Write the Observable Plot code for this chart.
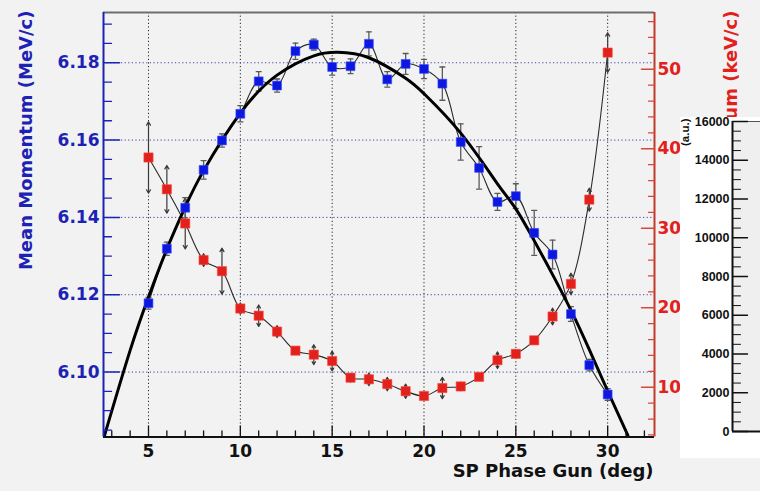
<!DOCTYPE html>
<html>
<head>
<meta charset="utf-8">
<script src="https://cdn.jsdelivr.net/npm/d3@7"></script>
<script src="https://cdn.jsdelivr.net/npm/@observablehq/plot@0.6"></script>
<style>
  body { margin: 0; background: #f2f2f2; }
  #wrap { position: relative; width: 760px; height: 491px; overflow: hidden; background: #f2f2f2; }
  #inset { position: absolute; left: 680px; top: 117px; width: 80px; height: 341px; background: #ffffff; }
  svg { display: block; }
</style>
</head>
<body>
<div id="wrap"><div id="main"></div><div id="inset"></div></div>
<script>
// Gun phase scan: mean momentum (left axis) and momentum spread (right axis)
const phase = [5, 6, 7, 8, 9, 10, 11, 12, 13, 14, 15, 16, 17, 18, 19, 20, 21, 22, 23, 24, 25, 26, 27, 28, 29, 30];
const meanMomentum = [6.1178, 6.1319, 6.1425, 6.1523, 6.1599, 6.1668, 6.1752, 6.1741, 6.1830, 6.1847,
  6.1789, 6.1791, 6.1849, 6.1757, 6.1797, 6.1784, 6.1746, 6.1595, 6.1528, 6.1440, 6.1455, 6.1360,
  6.1304, 6.1150, 6.1018, 6.0942];
const meanMomentumErr = [0.0015, 0.0017, 0.0026, 0.0024, 0.0017, 0.0021, 0.0025, 0.0017, 0.0021, 0.0014,
  0.0021, 0.0019, 0.0031, 0.0020, 0.0027, 0.0025, 0.0043, 0.0047, 0.0055, 0.0022, 0.0032, 0.0058,
  0.0037, 0.0019, 0.0015, 0.0015];
const momentumSpread = [38.9, 34.9, 30.6, 26.0, 24.6, 19.9, 19.0, 17.0, 14.6, 14.1, 13.3, 11.2, 11.0,
  10.4, 9.5, 8.9, 9.9, 10.1, 11.3, 13.4, 14.2, 15.9, 18.9, 23.0, 33.6, 52.1];
const momentumSpreadErr = [4.5, 3.0, 3.2, 0.8, 2.9, 0.7, 1.35, 0.75, 0.3, 1.25, 1.25, 0.55, 0.8, 0.85,
  0.9, 0.5, 1.35, 0.55, 0.3, 1.05, 0.5, 0.3, 1.05, 1.35, 1.45, 2.5];

// Fitted curve through the mean momentum
const fitPhase = [2.6, 4, 5, 6, 7, 8, 10, 12, 14, 15.3, 17, 19, 20, 22, 24, 25, 26, 27, 28, 29, 30, 31.1];
const fitMomentum = [6.0835, 6.1056, 6.1194, 6.1318, 6.1427, 6.1521, 6.1670, 6.1768, 6.1818, 6.1827,
  6.1813, 6.1760, 6.1720, 6.1618, 6.1487, 6.1422, 6.1340, 6.1252, 6.1160, 6.1058, 6.0951, 6.0836];

// Axis ticks
const phaseTicks = [5, 10, 15, 20, 25, 30];
const momentumTicks = [6.10, 6.12, 6.14, 6.16, 6.18];
const spreadTicks = [10, 20, 30, 40, 50];
const intensityTicks = [0, 2000, 4000, 6000, 8000, 10000, 12000, 14000, 16000];

const xDomain = [2.55, 32.55];
const yDomain = [6.0832, 6.193];
const spreadDomain = [3.74, 57.14];

const BLUE = "#1c22b4";
const RED = "#e2201c";
const FONT = "'DejaVu Sans', sans-serif";
const INSET_FONT = "'Liberation Sans', Arial, sans-serif";

// the spread is drawn on the momentum scale through this linear map
const spreadToY = d3.scaleLinear().domain(spreadDomain).range(yDomain);

const rows = phase.map((p, i) => ({
  phase: p,
  mean: meanMomentum[i],
  meanErr: meanMomentumErr[i],
  spread: spreadToY(momentumSpread[i]),
  spreadLo: spreadToY(momentumSpread[i] - momentumSpreadErr[i]),
  spreadHi: spreadToY(momentumSpread[i] + momentumSpreadErr[i])
}));
const fit = fitPhase.map((p, i) => ({phase: p, momentum: fitMomentum[i]}));

// a plain tick stroke for Plot.vector
const stroke = {draw(ctx, l) { ctx.moveTo(0, 0); ctx.lineTo(0, -l); }};

const range = (a, b, s) => d3.range(Math.round((b - a) / s) + 1).map(i => +(a + i * s).toFixed(6));
const minorX = range(3, 32, 1).filter(v => v % 5 !== 0);
const minorY = range(6.085, 6.19, 0.005).filter(v => !momentumTicks.some(t => Math.abs(t - v) < 1e-6));
const minorSpread = range(4, 56, 2).filter(v => v % 10 !== 0);

const main = Plot.plot({
  width: 760,
  height: 491,
  marginLeft: 103,
  marginRight: 106,
  marginTop: 12,
  marginBottom: 54.5,
  x: {domain: xDomain, axis: null},
  y: {domain: yDomain, axis: null},
  style: {background: "transparent", fontFamily: FONT, fontWeight: "bold", fontSize: "17px", overflow: "visible"},
  marks: [
    // dotted grid
    Plot.gridX(phaseTicks, {stroke: "#222", strokeOpacity: 1, strokeWidth: 1, strokeDasharray: "1.2,2.4"}),
    Plot.gridY(momentumTicks, {stroke: "#3a44a8", strokeOpacity: 1, strokeWidth: 1, strokeDasharray: "1.2,2.4"}),

    // momentum spread: connecting curve, arrows, markers
    Plot.line(rows, {x: "phase", y: "spread", curve: "catmull-rom", stroke: "#2b2b2b", strokeWidth: 1.1, clip: true}),
    Plot.arrow(rows, {x1: "phase", x2: "phase", y1: "spread", y2: "spreadHi", stroke: "#3a3a3a", strokeWidth: 1.2, headLength: 5}),
    Plot.arrow(rows, {x1: "phase", x2: "phase", y1: "spread", y2: "spreadLo", stroke: "#3a3a3a", strokeWidth: 1.2, headLength: 5}),

    // mean momentum: connecting curve and error bars
    Plot.line(rows, {x: "phase", y: "mean", curve: "catmull-rom", stroke: "#2b2b2b", strokeWidth: 1.1, clip: true}),
    Plot.ruleX(rows, {x: "phase", y1: d => d.mean - d.meanErr, y2: d => d.mean + d.meanErr, stroke: "#5a5a5a", strokeWidth: 1.3}),
    Plot.vector(rows, {x: "phase", y: d => d.mean + d.meanErr, rotate: 90, length: 5, anchor: "middle", shape: stroke, stroke: "#5a5a5a", strokeWidth: 1.3}),
    Plot.vector(rows, {x: "phase", y: d => d.mean - d.meanErr, rotate: 90, length: 5, anchor: "middle", shape: stroke, stroke: "#5a5a5a", strokeWidth: 1.3}),

    // fit
    Plot.line(fit, {x: "phase", y: "momentum", curve: "natural", stroke: "#000", strokeWidth: 3, clip: true}),

    // markers
    Plot.dot(rows, {x: "phase", y: "spread", symbol: "square", r: 5.2, fill: RED, stroke: "#ff4a3a", strokeWidth: 0.6}),
    Plot.dot(rows, {x: "phase", y: "mean", symbol: "square", r: 5.0, fill: "#0c18e0", stroke: "#3a4cff", strokeWidth: 0.6}),

    // frame
    Plot.ruleY([yDomain[1]], {stroke: "#6e6e6e", strokeWidth: 2}),
    Plot.ruleY([yDomain[0]], {stroke: "#111", strokeWidth: 2}),
    Plot.ruleX([xDomain[0]], {stroke: BLUE, strokeWidth: 2}),
    Plot.ruleX([xDomain[1]], {stroke: "#c0392b", strokeWidth: 2}),

    // inward ticks
    Plot.vector(phaseTicks, {x: d => d, frameAnchor: "bottom", rotate: 0, length: 11, anchor: "start", shape: stroke, stroke: "#111", strokeWidth: 1.3}),
    Plot.vector(minorX, {x: d => d, frameAnchor: "bottom", rotate: 0, length: 6, anchor: "start", shape: stroke, stroke: "#111", strokeWidth: 1.3}),
    Plot.vector(momentumTicks, {y: d => d, frameAnchor: "left", rotate: 90, length: 16, anchor: "start", shape: stroke, stroke: BLUE, strokeWidth: 1.5}),
    Plot.vector(minorY, {y: d => d, frameAnchor: "left", rotate: 90, length: 8, anchor: "start", shape: stroke, stroke: BLUE, strokeWidth: 1.3}),
    Plot.vector(spreadTicks, {y: d => spreadToY(d), frameAnchor: "right", rotate: -90, length: 13, anchor: "start", shape: stroke, stroke: "#d8453a", strokeWidth: 1.5}),
    Plot.vector(minorSpread, {y: d => spreadToY(d), frameAnchor: "right", rotate: -90, length: 6, anchor: "start", shape: stroke, stroke: "#d8453a", strokeWidth: 1.3}),

    // tick labels
    Plot.text(phaseTicks, {x: d => d, frameAnchor: "bottom", dy: 15, lineAnchor: "middle", text: d => String(d), fill: "#111", fontSize: 17, fontFamily: FONT, fontWeight: "bold"}),
    Plot.text(momentumTicks, {y: d => d, frameAnchor: "left", dx: -4, textAnchor: "end", lineAnchor: "middle", text: d => d.toFixed(2), fill: BLUE, fontSize: 17, fontFamily: FONT, fontWeight: "bold"}),
    Plot.text(spreadTicks, {y: d => spreadToY(d), frameAnchor: "right", dx: 3, textAnchor: "start", lineAnchor: "middle", text: d => String(d), fill: RED, fontSize: 17, fontFamily: FONT, fontWeight: "bold"}),

    // axis titles
    Plot.text(["SP Phase Gun (deg)"], {frameAnchor: "bottom-right", dx: -1, dy: 34.5, textAnchor: "end", lineAnchor: "middle", fill: "#111", fontSize: 18, fontFamily: FONT, fontWeight: "bold"}),
    Plot.text(["Mean Momentum (MeV/c)"], {frameAnchor: "top-left", dx: -77, dy: -2, rotate: -90, textAnchor: "end", lineAnchor: "middle", fill: BLUE, fontSize: 18, fontFamily: FONT, fontWeight: "bold"}),
    Plot.text(["RMS Momentum (keV/c)"], {frameAnchor: "top-right", dx: 77, dy: -2, rotate: -90, textAnchor: "end", lineAnchor: "middle", fill: RED, fontSize: 18, fontFamily: FONT, fontWeight: "bold"})
  ]
});
document.getElementById("main").append(main);

// neighbouring intensity panel
const intensityMinor = range(500, 15500, 500).filter(v => v % 2000 !== 0);
const inset = Plot.plot({
  width: 80,
  height: 341,
  marginLeft: 52,
  marginRight: 0,
  marginTop: 4,
  marginBottom: 27,
  x: {domain: [0, 1], axis: null},
  y: {domain: [0, 16000], axis: null},
  style: {background: "#ffffff", overflow: "visible"},
  marks: [
    Plot.frame({fill: "#efefef", stroke: null}),
    Plot.ruleY([16000], {stroke: "#555", strokeWidth: 1}),
    Plot.ruleY([0], {stroke: "#111", strokeWidth: 2}),
    Plot.ruleX([0], {stroke: "#111", strokeWidth: 2}),
    Plot.vector(intensityTicks, {y: d => d, frameAnchor: "left", rotate: 90, length: 15, anchor: "start", shape: stroke, stroke: "#111", strokeWidth: 1.3}),
    Plot.vector(intensityMinor, {y: d => d, frameAnchor: "left", rotate: 90, length: 8, anchor: "start", shape: stroke, stroke: "#111", strokeWidth: 1}),
    Plot.text(intensityTicks, {y: d => d, frameAnchor: "left", dx: -3, textAnchor: "end", lineAnchor: "middle", text: d => String(d), fill: "#111", fontSize: 12.5, fontFamily: INSET_FONT, fontWeight: "bold"}),
    Plot.text(["(a.u.)"], {frameAnchor: "top-left", dx: -47, dy: -3, rotate: -90, textAnchor: "end", lineAnchor: "middle", fill: "#111", fontSize: 11.5, fontFamily: INSET_FONT, fontWeight: "bold"})
  ]
});
document.getElementById("inset").append(inset);
</script>
</body>
</html>
